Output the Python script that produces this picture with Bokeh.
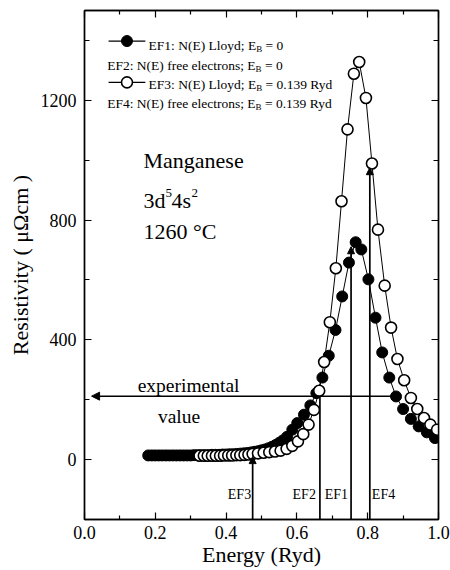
from bokeh.plotting import figure
from bokeh.models import (ColumnDataSource, Label, Arrow, NormalHead, LinearAxis,
                          FixedTicker, PrintfTickFormatter, Range1d,
                          CustomJSTickFormatter)
from bokeh.embed import file_html
from bokeh.resources import INLINE

# ---------------- data ----------------
# EF1 series: N(E) Lloyd, E_B = 0 (filled circles)
e_lloyd_0 = [0.18, 0.19, 0.20, 0.21, 0.22, 0.23, 0.24, 0.25, 0.26, 0.27, 0.28, 0.29,
             0.30, 0.31, 0.32, 0.33, 0.34, 0.35, 0.36, 0.37, 0.38, 0.39, 0.40, 0.41,
             0.42, 0.43, 0.44, 0.45, 0.46, 0.47, 0.48, 0.49, 0.50, 0.51, 0.52, 0.53,
             0.54, 0.55, 0.56, 0.572, 0.587, 0.601, 0.620, 0.638, 0.655, 0.672, 0.690,
             0.709, 0.728, 0.747, 0.766, 0.782, 0.802, 0.822, 0.841, 0.861, 0.880,
             0.900, 0.922, 0.944, 0.967, 0.990]
r_lloyd_0 = [14, 14, 14, 14, 14, 14, 14, 14, 14, 14, 14, 14,
             14, 15, 15, 15, 15, 15, 16, 16, 16, 17, 17, 18,
             18, 19, 20, 21, 22, 24, 26, 28, 31, 34, 38, 43,
             49, 56, 64, 76, 100, 122, 150, 181, 222, 274, 347,
             433, 545, 658, 726, 702, 602, 474, 358, 274, 211,
             169, 136, 111, 91, 72]

# EF3 series: N(E) Lloyd, E_B = 0.139 Ryd (open circles)
e_lloyd_139 = [0.325, 0.337, 0.348, 0.360, 0.371, 0.383, 0.394, 0.406, 0.417, 0.429,
               0.440, 0.452, 0.463, 0.475, 0.490, 0.506, 0.522, 0.538, 0.554, 0.571,
               0.587, 0.603, 0.618, 0.633, 0.648, 0.663, 0.677, 0.693, 0.710, 0.726,
               0.743, 0.761, 0.776, 0.795, 0.812, 0.829, 0.848, 0.866, 0.884, 0.903,
               0.922, 0.940, 0.959, 0.977, 0.996]
r_lloyd_139 = [13, 13, 13, 13, 13, 13, 14, 14, 14, 15,
               15, 16, 17, 19, 21, 23, 25, 27, 30, 36,
               46, 61, 85, 117, 166, 230, 326, 459, 639, 863,
               1103, 1289, 1328, 1208, 989, 768, 581, 441, 336, 265,
               206, 169, 139, 117, 100]

# Fermi energies and the heights their markers reach
ef_names = ["EF1", "EF2", "EF3", "EF4"]
ef_energy = [0.753, 0.665, 0.475, 0.806]
ef_top = [711, 212, 10, 975]
ef_has_head = [True, False, True, True]

experimental_value = 212

x_ticks = [0.0, 0.2, 0.4, 0.6, 0.8, 1.0]
x_minor = [0.1, 0.3, 0.5, 0.7, 0.9]
y_ticks = [0, 400, 800, 1200]
y_minor = [-200, 200, 600, 1000, 1400]

# ---------------- styling / layout ----------------
FONT = "Liberation Serif"
X0, X1 = 0.0, 1.0
Y0, Y1 = -200, 1500
PX_PER_Y = 510 / (Y1 - Y0)

W = {'E': 611, 'F': 556, '1': 500, '2': 500, '3': 500, '4': 500, '0': 500, '9': 500,
     ':': 278, ' ': 250, 'N': 722, '(': 333, ')': 333, 'L': 611, 'l': 278, 'o': 500,
     'y': 500, 'd': 500, ';': 278, 'f': 333, 'r': 333, 'e': 444, 'c': 444, 't': 278,
     'n': 500, 's': 389, '=': 564, '.': 250, 'R': 667, 'B': 667}


def tw(s, size):
    return sum(W.get(ch, 500) for ch in s) * size / 1000.0


p = figure(width=450, height=570, output_backend="svg", toolbar_location=None,
           x_range=Range1d(X0, X1), y_range=Range1d(Y0, Y1),
           min_border_left=84, min_border_right=12, min_border_top=10,
           min_border_bottom=51, background_fill_color="white",
           border_fill_color="white")
p.xgrid.visible = False
p.ygrid.visible = False
p.outline_line_color = "black"
p.outline_line_width = 1.4

xt = FixedTicker(ticks=x_ticks, minor_ticks=x_minor)
yt = FixedTicker(ticks=y_ticks, minor_ticks=y_minor)


def style_axis(ax, ticker, labels=True):
    ax.ticker = ticker
    ax.axis_line_color = "black"
    ax.axis_line_width = 1.4
    ax.major_tick_in = 7
    ax.major_tick_out = 0
    ax.minor_tick_in = 4
    ax.minor_tick_out = 0
    ax.major_tick_line_width = 1.2
    ax.minor_tick_line_width = 1.2
    ax.major_tick_line_color = "black"
    ax.minor_tick_line_color = "black"
    if labels:
        ax.major_label_text_font = FONT
        ax.major_label_text_font_size = "18px"
        ax.major_label_text_color = "black"
        ax.axis_label_text_font = FONT
        ax.axis_label_text_font_size = "22px"
        ax.axis_label_text_font_style = "normal"
        ax.axis_label_text_color = "black"
    else:
        ax.formatter = CustomJSTickFormatter(code="return ''")
        ax.major_label_text_font_size = "1px"
        ax.major_label_standoff = 0


style_axis(p.xaxis[0], xt)
style_axis(p.yaxis[0], yt)
p.xaxis[0].formatter = PrintfTickFormatter(format="%.1f")
p.xaxis[0].axis_label = "Energy (Ryd)"
p.xaxis[0].major_label_standoff = 6
p.xaxis[0].axis_label_standoff = 0
p.yaxis[0].axis_label = "Resistivity ( μΩcm )"
p.yaxis[0].major_label_standoff = 8
p.yaxis[0].axis_label_standoff = 5
p.yaxis[0].minor_tick_in = 5

top_ax = LinearAxis()
style_axis(top_ax, FixedTicker(ticks=x_ticks, minor_ticks=x_minor), labels=False)
p.add_layout(top_ax, "above")
right_ax = LinearAxis()
style_axis(right_ax, FixedTicker(ticks=y_ticks, minor_ticks=y_minor), labels=False)
right_ax.minor_tick_in = 5
p.add_layout(right_ax, "right")

# ---------------- series ----------------
src0 = ColumnDataSource(dict(x=e_lloyd_0, y=r_lloyd_0))
src1 = ColumnDataSource(dict(x=e_lloyd_139, y=r_lloyd_139))
p.line("x", "y", source=src0, line_color="black", line_width=1)
p.line("x", "y", source=src1, line_color="black", line_width=1)
p.scatter("x", "y", source=src0, size=11, marker="circle",
          fill_color="black", line_color="black", line_width=1)
p.scatter("x", "y", source=src1, size=11, marker="circle",
          fill_color="white", line_color="black", line_width=1.6)

# ---------------- Fermi energy markers ----------------
head_idx = [i for i, h in enumerate(ef_has_head) if h]
plain_idx = [i for i, h in enumerate(ef_has_head) if not h]
arr_src = ColumnDataSource(dict(x0=[ef_energy[i] for i in head_idx],
                                y0=[Y0] * len(head_idx),
                                x1=[ef_energy[i] for i in head_idx],
                                y1=[ef_top[i] for i in head_idx]))
p.add_layout(Arrow(end=NormalHead(size=7, fill_color="black", line_color="black",
                                  line_width=1),
                   source=arr_src, x_start="x0", y_start="y0", x_end="x1", y_end="y1",
                   line_color="black", line_width=1.7))
p.segment(x0=[ef_energy[i] for i in plain_idx], y0=[Y0] * len(plain_idx),
          x1=[ef_energy[i] for i in plain_idx], y1=[ef_top[i] for i in plain_idx],
          line_color="black", line_width=1.7)

ef_align = ["right", "right", "right", "left"]
ef_off = [-3, -4, -1.5, 2]
EF_LABEL_Y = -117
for name, e, al, off in zip(ef_names, ef_energy, ef_align, ef_off):
    p.add_layout(Label(x=e, y=EF_LABEL_Y, x_offset=off, text=name, text_align=al,
                       text_baseline="alphabetic", text_font=FONT,
                       text_font_size="14px", text_color="black"))

# experimental value arrow
EXP_X_START, EXP_X_END = 0.872, 0.02
p.add_layout(Arrow(end=NormalHead(size=8, fill_color="black", line_color="black",
                                  line_width=1),
                   x_start=EXP_X_START, y_start=experimental_value,
                   x_end=EXP_X_END, y_end=experimental_value,
                   line_color="black", line_width=1.5))
p.add_layout(Label(x=0.294, y=247, text="experimental", text_align="center",
                   text_baseline="alphabetic", text_font=FONT,
                   text_font_size="19.5px", text_color="black"))
p.add_layout(Label(x=0.267, y=144, text="value", text_align="center",
                   text_baseline="alphabetic", text_font=FONT,
                   text_font_size="19.5px", text_color="black"))

# ---------------- element block ----------------
MX = 0.1667
BIG = 22
SUP = 13
SUP_RAISE = 7 / PX_PER_Y


def lab(x, y, text, size, xoff=0):
    p.add_layout(Label(x=x, y=y, x_offset=xoff, text=text, text_align="left",
                       text_baseline="alphabetic", text_font=FONT,
                       text_font_size=f"{size}px", text_color="black"))


lab(MX, 998, "Manganese", BIG)
lab(MX, 867, "3d", BIG)
lab(MX, 867 + SUP_RAISE, "5", SUP, xoff=22)
lab(MX, 867, "4s", BIG, xoff=28)
lab(MX, 867 + SUP_RAISE, "2", SUP, xoff=48)
lab(MX, 761, "1260 °C", BIG)

# ---------------- legend ----------------
LEG = 13.5
SUB = 9
SUB_DROP = 3 / PX_PER_Y
legend_rows = [
    ("EF1: N(E) Lloyd; E", "= 0", 0.181, 1382),
    ("EF2: N(E) free electrons; E", "= 0", 0.064, 1316),
    ("EF3: N(E) Lloyd; E", "= 0.139 Ryd", 0.181, 1252),
    ("EF4: N(E) free electrons; E", "= 0.139 Ryd", 0.064, 1188),
]
for main, rest, x, y in legend_rows:
    w_main = tw(main, LEG)
    lab(x, y, main, LEG)
    lab(x, y - SUB_DROP, "B", SUB, xoff=w_main)
    lab(x, y, rest, LEG, xoff=w_main + tw("B", SUB) + tw(" ", LEG))

KEY_X0, KEY_X1, KEY_XM = 0.068, 0.172, 0.120
for y, fill, lw in [(1398, "black", 1), (1260, "white", 1.6)]:
    p.line([KEY_X0, KEY_X1], [y, y], line_color="black", line_width=1.3)
    p.scatter([KEY_XM], [y], size=11, marker="circle", fill_color=fill,
              line_color="black", line_width=lw)

open("out.html", "w").write(file_html(p, INLINE))
